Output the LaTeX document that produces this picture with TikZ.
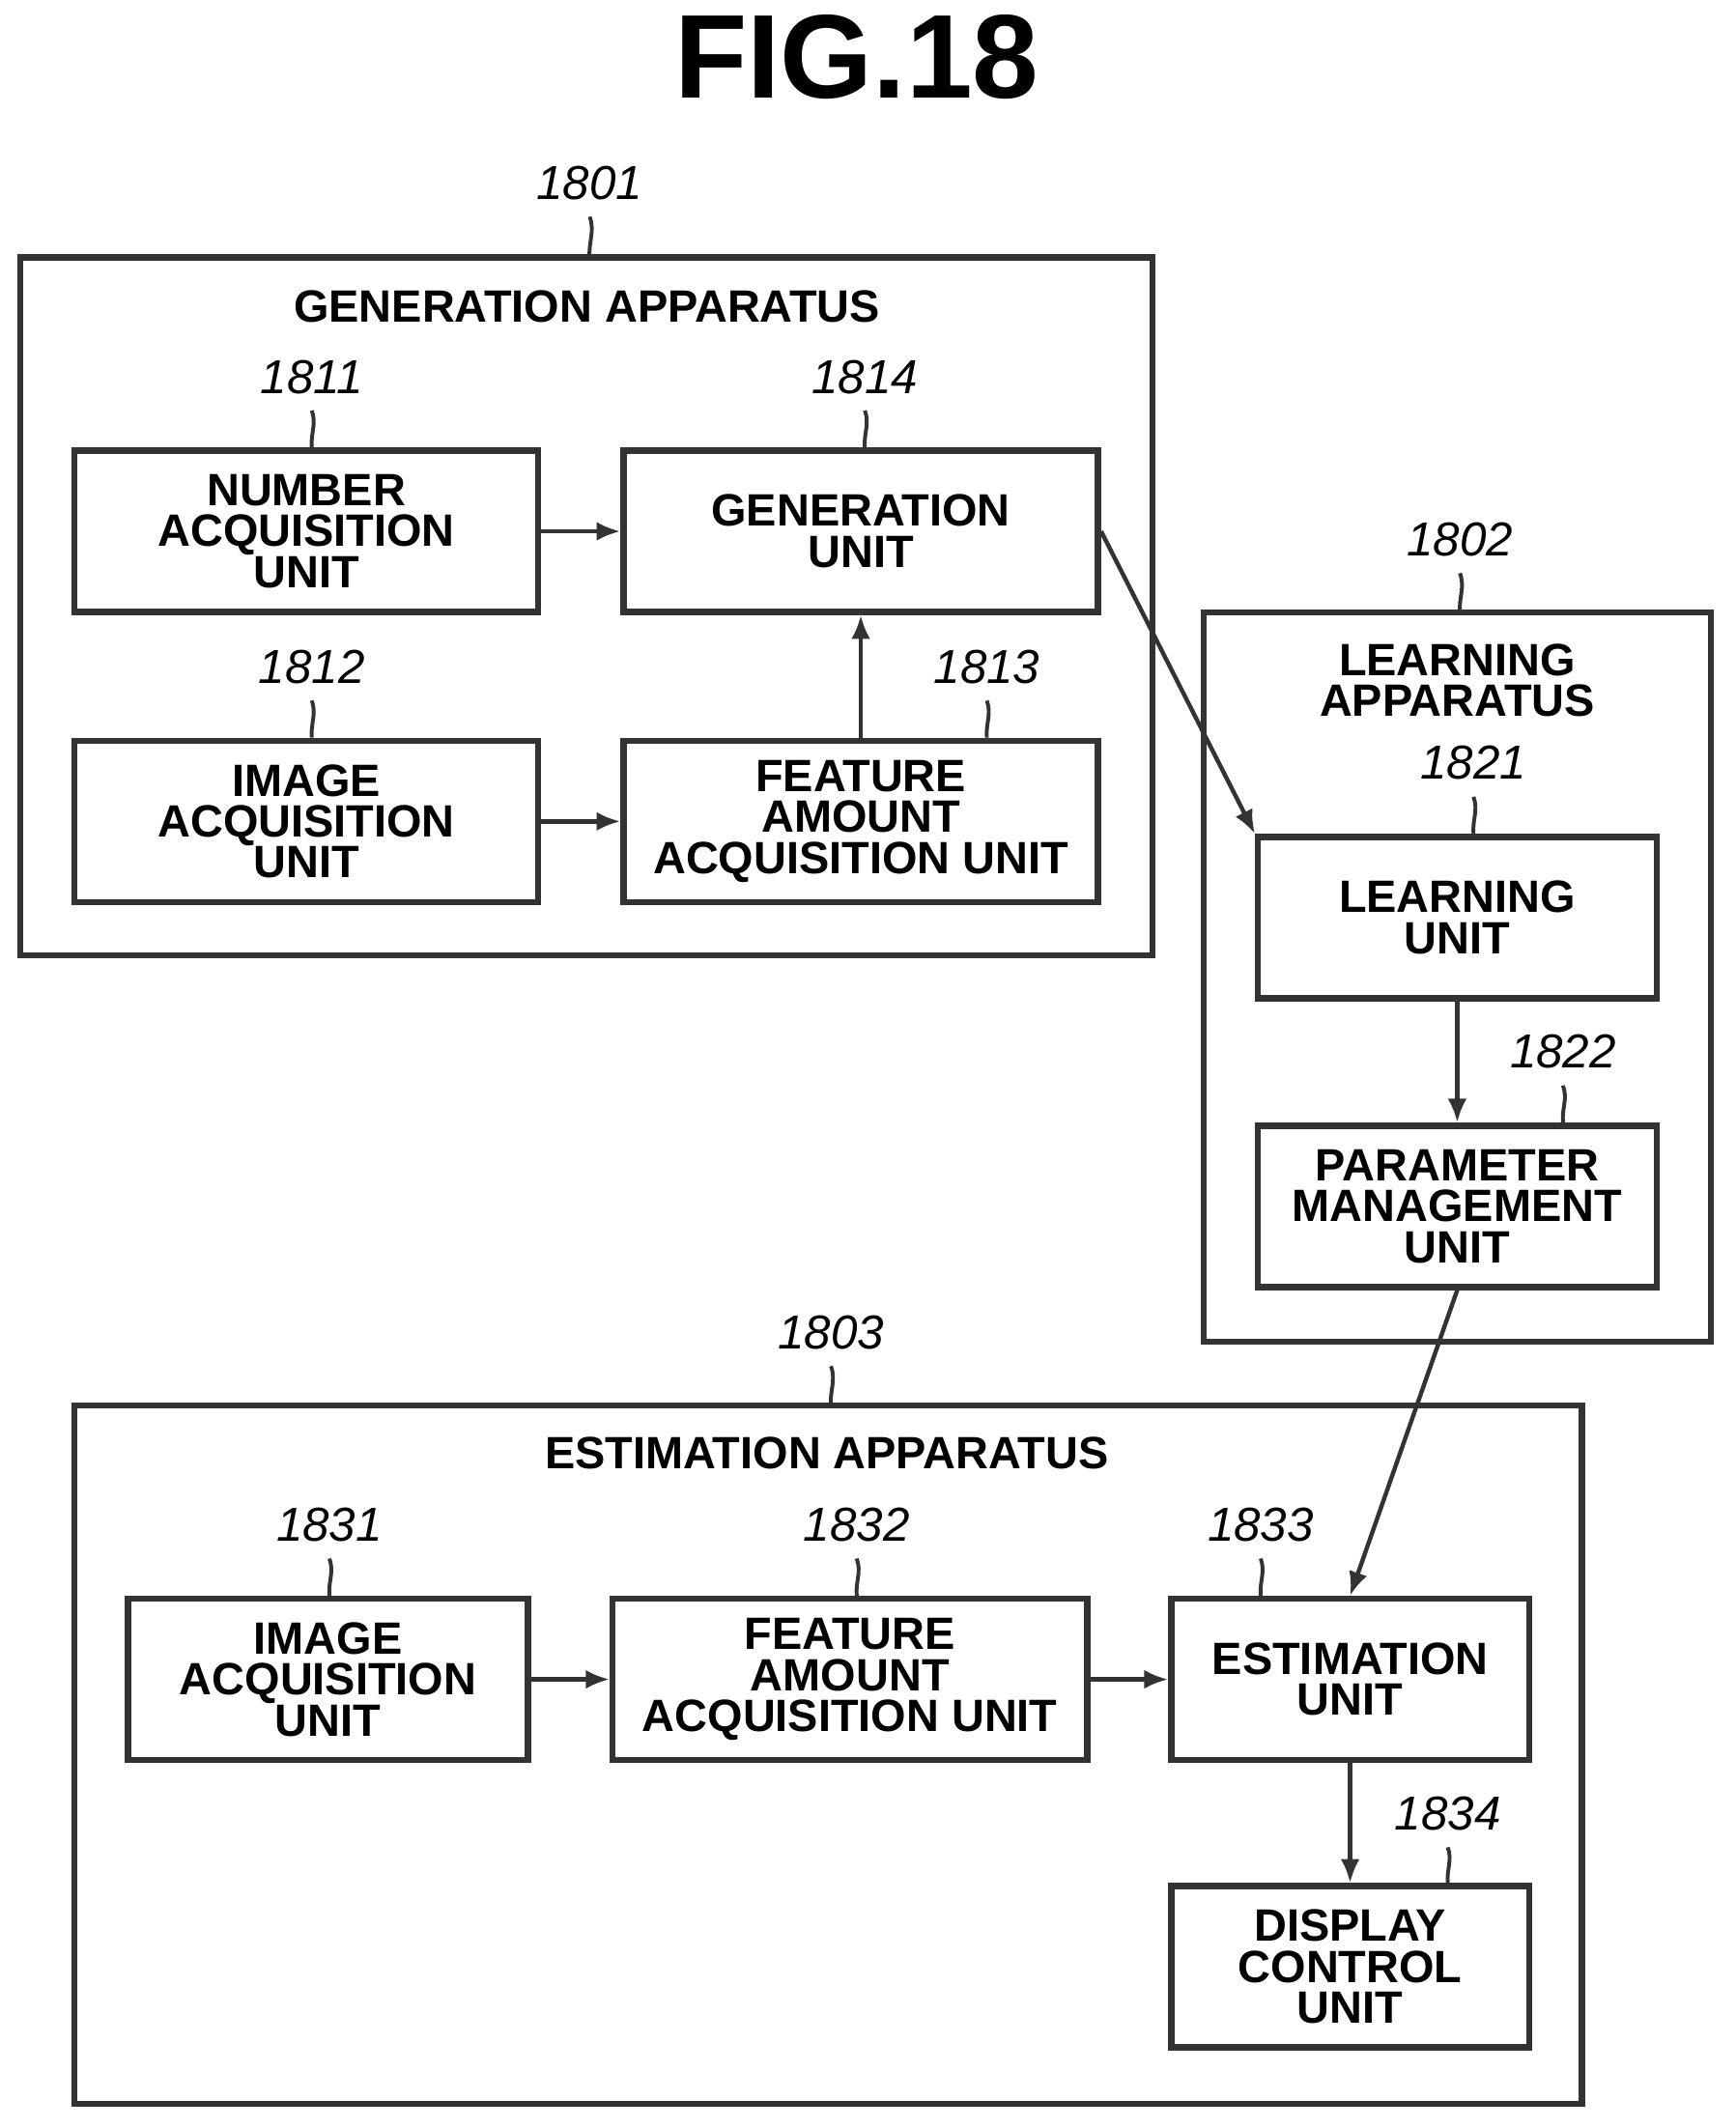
\documentclass[tikz,border=0pt]{standalone}
\usepackage{fontspec}
\setmainfont{Liberation Sans}
\usetikzlibrary{arrows.meta}
\tikzset{
  unit/.style={rectangle, draw=black!80, line width=1.3pt, align=center,
    font=\fontsize{9.5}{8.6}\selectfont\bfseries, inner sep=0pt},
  frame/.style={draw=black!80, line width=1.3pt},
  num/.style={font=\fontsize{10}{10}\selectfont\itshape},
  lead/.style={draw=black!80, line width=0.8pt},
  arrow/.style={draw=black!80, line width=0.9pt, -{Latex[length=5pt,width=4pt]}}
}
\newcommand{\unitbox}[4]{\node[unit, minimum width=#3*0.01cm, minimum height=119*0.01cm] (#1) at #2 {#4};}
\begin{document}
\begin{tikzpicture}[x=0.01cm, y=-0.01cm]
  \useasboundingbox (0,0) rectangle (1280,1570);
  \node[font=\fontsize{25}{25}\selectfont\bfseries] (title) at (632,42) {FIG.18};

  % generation apparatus
  \draw[frame] (15,190) rectangle (850,705);
  \coordinate (g) at (435,190);
  \node[num] (l1801) at (435,135) {1801};
  \node[font=\fontsize{9.5}{9}\selectfont\bfseries] (gname) at (433,226) {GENERATION APPARATUS};
  \unitbox{b1811}{(226,392)}{342}{NUMBER\\ACQUISITION\\UNIT}
  \unitbox{b1814}{(635,392)}{350}{GENERATION\\UNIT}
  \unitbox{b1812}{(226,606)}{342}{IMAGE\\ACQUISITION\\UNIT}
  \unitbox{b1813}{(635,606)}{350}{FEATURE\\AMOUNT\\ACQUISITION UNIT}
  \node[num] (l1811) at (230,278) {1811};
  \node[num] (l1814) at (638,278) {1814};
  \node[num] (l1812) at (230,492) {1812};
  \node[num] (l1813) at (728,492) {1813};

  % learning apparatus
  \draw[frame] (888,452) rectangle (1262,990);
  \coordinate (l) at (1077,452);
  \node[num] (l1802) at (1077,398) {1802};
  \node[font=\fontsize{9.5}{8.6}\selectfont\bfseries, align=center] (lname) at (1075,502) {LEARNING\\APPARATUS};
  \unitbox{b1821}{(1075,677)}{294}{LEARNING\\UNIT}
  \unitbox{b1822}{(1075,890)}{294}{PARAMETER\\MANAGEMENT\\UNIT}
  \node[num] (l1821) at (1087,563) {1821};
  \node[num] (l1822) at (1153,776) {1822};

  % estimation apparatus
  \draw[frame] (55,1037) rectangle (1167,1552);
  \coordinate (e) at (613,1037);
  \node[num] (l1803) at (613,983) {1803};
  \node[font=\fontsize{9.5}{9}\selectfont\bfseries] (ename) at (610,1072) {ESTIMATION APPARATUS};
  \unitbox{b1831}{(242,1239)}{295}{IMAGE\\ACQUISITION\\UNIT}
  \unitbox{b1832}{(627,1239)}{350}{FEATURE\\AMOUNT\\ACQUISITION UNIT}
  \unitbox{b1833}{(996,1239)}{264}{ESTIMATION\\UNIT}
  \unitbox{b1834}{(996,1451)}{264}{DISPLAY\\CONTROL\\UNIT}
  \node[num] (l1831) at (243,1125) {1831};
  \node[num] (l1832) at (632,1125) {1832};
  \node[num] (l1833) at (930,1125) {1833};
  \node[num] (l1834) at (1068,1338) {1834};

  % leaders
  \draw[lead] (l1801.south) to[out=-70,in=95] (g);
  \draw[lead] (l1802.south) to[out=-70,in=95] (l);
  \draw[lead] (l1803.south) to[out=-70,in=95] (e);
  \foreach \l/\b in {1811/b1811, 1814/b1814, 1812/b1812, 1813/b1813, 1821/b1821,
                     1822/b1822, 1831/b1831, 1832/b1832, 1833/b1833, 1834/b1834}
    \draw[lead] (l\l.south) to[out=-70,in=95] (l\l.south |- \b.north);

  % connectors
  \draw[arrow] (b1811) -- (b1814);
  \draw[arrow] (b1812) -- (b1813);
  \draw[arrow] (b1813) -- (b1814);
  \draw[arrow] (b1814.east) -- (b1821.north west);
  \draw[arrow] (b1821) -- (b1822);
  \draw[arrow] (b1822.south) -- (b1833.north);
  \draw[arrow] (b1831) -- (b1832);
  \draw[arrow] (b1832) -- (b1833);
  \draw[arrow] (b1833) -- (b1834);
\end{tikzpicture}
\end{document}
